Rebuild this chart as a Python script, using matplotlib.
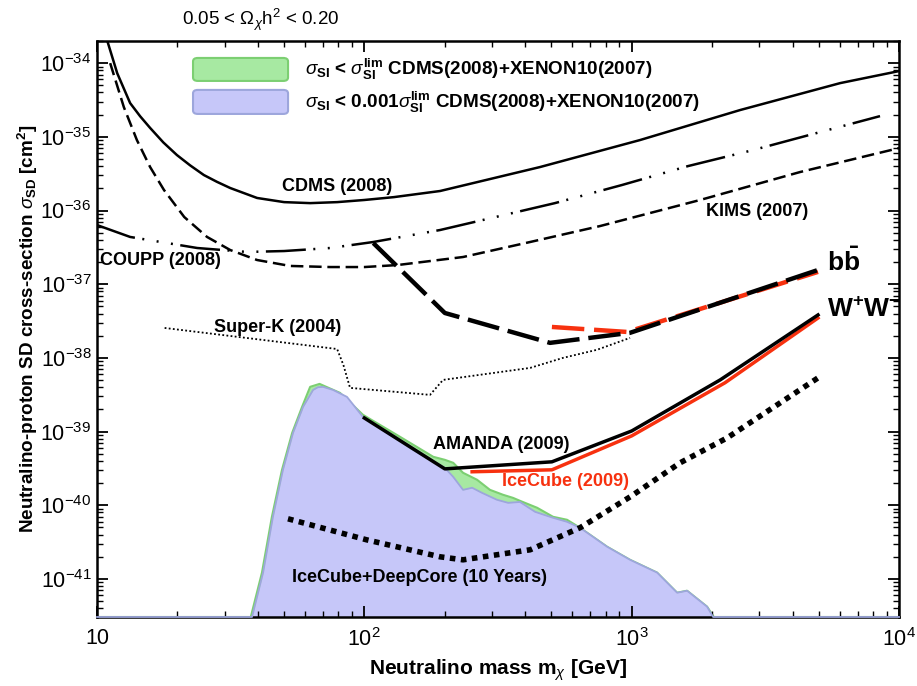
import numpy as np
import matplotlib
matplotlib.use("Agg")
import matplotlib.pyplot as plt
from matplotlib.patches import FancyBboxPatch
from matplotlib.ticker import LogLocator, FixedLocator, FuncFormatter, NullFormatter

plt.rcParams['font.family'] = ['Liberation Sans', 'DejaVu Sans']
plt.rcParams['mathtext.fontset'] = 'custom'
plt.rcParams['mathtext.rm'] = 'Liberation Sans'
plt.rcParams['mathtext.it'] = 'Liberation Sans:italic'
plt.rcParams['mathtext.bf'] = 'Liberation Sans:bold'

# ---- data (mass in GeV, cross-section in cm^2) ----
y_floor = 3.05e-42

cdms_x = [10.8, 11.9, 13.3, 14.5, 15.8, 17.7, 19.9, 22.3, 25.1, 28.1, 31.5, 39.7, 50.1, 62.7, 79.1, 100, 129,
          192, 454, 1074, 2545, 6026, 10000]
cdms_y = [2.3e-34, 7.3e-35, 2.87e-35, 1.9e-35, 1.32e-35, 8.4e-36, 5.66e-36, 4.1e-36, 3.03e-36, 2.45e-36,
          2.02e-36, 1.48e-36, 1.30e-36, 1.26e-36, 1.30e-36, 1.39e-36, 1.52e-36, 1.84e-36, 3.89e-36, 9.04e-36,
          2.31e-35, 5.36e-35, 7.8e-35]

coupp_x = [10, 13.3, 23.7, 36.4, 50.1, 74.5, 108, 192, 516, 920, 1625, 2845, 5070, 8490]
coupp_y = [6.35e-37, 4.38e-37, 3.10e-37, 2.74e-37, 2.82e-37, 3.10e-37, 3.74e-37, 5.44e-37, 1.26e-36,
           2.22e-36, 4.01e-36, 6.61e-36, 1.16e-35, 1.91e-35]

kims_x = [11.2, 12.6, 14.1, 15.8, 17.8, 21.2, 25.8, 31.5, 39.7, 52.7, 74.5, 100, 133, 234, 417, 762, 1803, 4266, 10000]
kims_y = [1.0e-34, 2.53e-35, 9.03e-36, 3.89e-36, 1.90e-36, 8.16e-37, 4.38e-37, 2.91e-37, 2.13e-37, 1.77e-37,
          1.71e-37, 1.71e-37, 1.82e-37, 2.34e-37, 3.74e-37, 6.16e-37, 1.39e-36, 3.33e-36, 7.03e-36]

superk_x = [17.9, 79.1, 83.5, 88.4, 176, 197, 417, 553, 742, 986]
superk_y = [2.55e-38, 1.32e-38, 8.0e-39, 3.92e-39, 3.15e-39, 5.03e-39, 7.32e-39, 1.0e-38, 1.29e-38, 1.87e-38]

amanda_bb_x = [108, 200, 495, 986, 4977]
amanda_bb_y = [3.62e-37, 4.07e-38, 1.60e-38, 2.19e-38, 1.56e-37]
icecube_bb_x = [503, 961, 4977]
icecube_bb_y = [2.63e-38, 2.25e-38, 1.47e-37]

amanda_ww_x = [100, 200, 503, 1000, 2143, 4977]
amanda_ww_y = [1.53e-39, 3.12e-40, 3.89e-40, 1.02e-39, 5.03e-39, 3.83e-38]
icecube_ww_x = [253, 503, 1000, 2234, 4977]
icecube_ww_y = [2.85e-40, 3.03e-40, 8.75e-40, 4.6e-39, 3.48e-38]

deepcore_x = [51.8, 102, 192, 234, 417, 641, 986, 1517, 2275, 4977]
deepcore_y = [6.56e-41, 3.40e-41, 2.0e-41, 1.82e-41, 2.49e-41, 4.96e-41, 1.30e-40, 3.77e-40, 8.22e-40, 5.36e-39]

# scan regions: sigma_SI < sigma_lim (green), sigma_SI < 0.001 sigma_lim (blue)
green_x = [10, 37.6, 41.4, 45.1, 49.2, 53.7, 58.5, 62.7, 68.0, 81.1, 98.8, 136, 181, 200, 215, 234, 264, 295,
           330, 360, 382, 443, 508, 573, 641, 809, 986, 1245, 1479, 1611, 1914, 2030, 10000]
green_y = [y_floor, y_floor, 1.22e-41, 6.98e-41, 3.03e-40, 9.61e-40, 2.17e-39, 4.05e-39, 4.44e-39, 3.35e-39,
           1.69e-39, 8.49e-40, 4.55e-40, 4.14e-40, 3.77e-40, 2.76e-40, 2.22e-40, 1.62e-40, 1.39e-40, 1.26e-40,
           1.15e-40, 9.25e-41, 6.98e-41, 6.36e-41, 4.95e-41, 2.74e-41, 1.82e-41, 1.22e-41, 6.51e-42, 6.93e-42,
           4.21e-42, y_floor, y_floor]

blue_x = [10, 38.0, 41.8, 45.5, 49.6, 54.1, 59.0, 64.3, 67.0, 70.0, 76.3, 86.1, 98.8, 121.6, 152, 200, 215, 234,
          253, 275, 313, 345, 382, 435, 508, 573, 641, 809, 986, 1245, 1479, 1611, 1914, 2017, 10000]
blue_y = [y_floor, y_floor, 1.22e-41, 6.98e-41, 3.03e-40, 9.61e-40, 2.17e-39, 3.68e-39, 4.0e-39, 4.05e-39,
          3.68e-39, 2.96e-39, 1.58e-39, 9.61e-40, 5.66e-40, 3.22e-40, 2.43e-40, 1.62e-40, 1.73e-40, 1.48e-40,
          1.19e-40, 1.08e-40, 1.11e-40, 8.16e-41, 6.77e-41, 5.97e-41, 4.95e-41, 2.74e-41, 1.82e-41, 1.22e-41,
          6.51e-42, 6.93e-42, 4.21e-42, y_floor, y_floor]

x_ticks = [10, 100, 1000, 10000]
y_ticks = [1e-41, 1e-40, 1e-39, 1e-38, 1e-37, 1e-36, 1e-35, 1e-34]

green_fc, green_ec = '#a7e9a2', '#7ccf72'
blue_fc, blue_ec = '#c6c7f9', '#9da6dc'
red = '#f7310f'

fig = plt.figure(figsize=(9.17, 6.86), dpi=100)
ax = fig.add_axes([0.1058, 0.1006, 0.8746, 0.8397])
ax.set_xscale('log')
ax.set_yscale('log')
ax.set_xlim(10, 1e4)
ax.set_ylim(y_floor, 2.0e-34)

# regions (edge drawn above the bottom spine, below the limit curves)
ax.fill_between(green_x, green_y, y_floor, color=green_fc, lw=0, zorder=1)
ax.plot(green_x, green_y, color=green_ec, lw=1.5, zorder=1.1, clip_on=False)
ax.fill_between(blue_x, blue_y, y_floor, color=blue_fc, lw=0, zorder=1.2)
ax.plot(blue_x, blue_y, color=blue_ec, lw=1.3, zorder=2.6, clip_on=False)

# direct detection limits
line_z = 2.8
ax.plot(cdms_x, cdms_y, color='k', lw=1.8, zorder=line_z)
ax.plot(coupp_x, coupp_y, color='k', lw=1.8, ls=(0, (16, 3, 0.8, 5, 0.8, 5, 0.8, 3)), zorder=line_z)
ax.plot(kims_x, kims_y, color='k', lw=1.8, ls=(0, (5, 2.3)), zorder=line_z)
ax.plot(superk_x, superk_y, color='k', lw=1.3, ls=(0, (1, 1.3)), zorder=line_z)

# neutrino telescope limits
ax.plot(icecube_bb_x, icecube_bb_y, color=red, lw=3.2, ls=(0, (7.3, 2.2)), zorder=line_z)
ax.plot(amanda_bb_x, amanda_bb_y, color='k', lw=3.2, ls=(0, (7.3, 2.0)), zorder=line_z)
ax.plot(icecube_ww_x, icecube_ww_y, color=red, lw=2.5, zorder=line_z)
ax.plot(amanda_ww_x, amanda_ww_y, color='k', lw=2.5, zorder=line_z)
ax.plot(deepcore_x, deepcore_y, color='k', lw=4.0, ls=(0, (1, 1)), zorder=line_z)

# labels on curves
lab = dict(fontsize=13, fontweight='bold', va='center')
ax.text(79, 2.15e-36, 'CDMS (2008)', ha='center', **lab)
ax.text(10.26, 2.13e-37, 'COUPP (2008)', ha='left', **lab)
ax.text(2944, 9.8e-37, 'KIMS (2007)', ha='center', **lab)
ax.text(47.5, 2.55e-38, 'Super-K (2004)', ha='center', **lab)
ax.text(324, 6.6e-40, 'AMANDA (2009)', ha='center', **lab)
ax.text(564, 2.08e-40, 'IceCube (2009)', ha='center', color=red, **lab)
ax.text(161, 1.04e-41, 'IceCube+DeepCore (10 Years)', ha='center', **lab)
ax.text(5383, 2.0e-37, r'b$\mathbf{\bar{b}}$', ha='left', fontsize=19, fontweight='bold', va='center')
ax.text(5383, 4.48e-38, r'W$^{\mathbf{+}}$W$^{\mathbf{-}}$', ha='left', fontsize=19, fontweight='bold',
        va='center')

ax.text(0.2045, 1.036, r'0.05 < $\Omega_{\chi}\mathrm{h}^{2}$ < 0.20', transform=ax.transAxes,
        ha='center', va='center', fontsize=13.5)

# legend boxes
legend_items = [
    (green_fc, green_ec, 0.9306, 0.0399, 0.9505,
     r'$\sigma_{\mathbf{SI}}$ < $\sigma_{\mathbf{SI}}^{\mathbf{lim}}$ CDMS(2008)+XENON10(2007)'),
    (blue_fc, blue_ec, 0.8733, 0.0417, 0.894,
     r'$\sigma_{\mathbf{SI}}$ < 0.001$\sigma_{\mathbf{SI}}^{\mathbf{lim}}$ CDMS(2008)+XENON10(2007)'),
]
for fc, ec, y0, h, ty, txt in legend_items:
    ax.add_patch(FancyBboxPatch((0.1197, y0), 0.1185, h, boxstyle='round,pad=0,rounding_size=0.006',
                                transform=ax.transAxes, fc=fc, ec=ec, lw=1.5, zorder=4))
    ax.text(0.2594, ty, txt, transform=ax.transAxes, ha='left', va='center', fontsize=13.6,
            fontweight='bold', zorder=4)

# axes styling
for s in ax.spines.values():
    s.set_linewidth(1.8)
ax.xaxis.set_major_locator(FixedLocator(x_ticks))
ax.xaxis.set_major_formatter(FuncFormatter(
    lambda v, p: '10' if abs(v - 10) < 1e-6 else r'$10^{%d}$' % round(np.log10(v))))
ax.xaxis.set_minor_locator(LogLocator(base=10, subs=np.arange(2, 10), numticks=100))
ax.xaxis.set_minor_formatter(NullFormatter())
ax.yaxis.set_major_locator(FixedLocator(y_ticks))
ax.yaxis.set_major_formatter(FuncFormatter(lambda v, p: r'$10^{%d}$' % round(np.log10(v))))
ax.yaxis.set_minor_locator(LogLocator(base=10, subs=np.arange(2, 10), numticks=100))
ax.yaxis.set_minor_formatter(NullFormatter())
ax.tick_params(which='both', direction='in', top=True, right=True, labelsize=15.5)
ax.tick_params(which='major', length=8, width=1.3)
ax.tick_params(which='minor', length=4, width=1.0)
ax.tick_params(axis='x', which='major', pad=8)
ax.tick_params(axis='y', which='major', pad=4)

ax.set_xlabel(r'Neutralino mass m$_{\chi}$ [GeV]', fontsize=15, fontweight='bold', labelpad=5)
ax.set_ylabel(r'Neutralino-proton SD cross-section $\sigma_{\mathbf{SD}}$ [cm$^{\mathbf{2}}$]',
              fontsize=13.6, fontweight='bold', labelpad=0)

fig.savefig('out.png', dpi=100)
